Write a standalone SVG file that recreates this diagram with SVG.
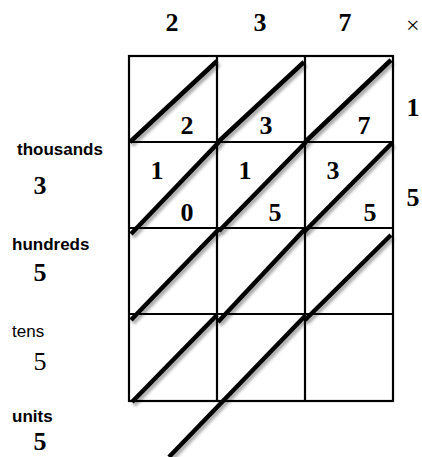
<svg xmlns="http://www.w3.org/2000/svg" width="422" height="457" viewBox="0 0 422 457">
<defs>
<filter id="sh" x="-20%" y="-20%" width="140%" height="140%">
<feDropShadow dx="2" dy="3" stdDeviation="1.8" flood-color="#000" flood-opacity="0.35"/>
</filter>
<style>
.grid{fill:none;stroke:#000;stroke-width:2.2}
.diag{stroke:#000;stroke-width:4.5;fill:none;filter:url(#sh)}
.num{font-family:"Liberation Serif","Times New Roman",serif;font-weight:bold;font-size:26px;fill:#000;text-anchor:middle}
.numr{font-family:"Liberation Serif","Times New Roman",serif;font-size:26px;fill:#000;text-anchor:middle}
.lab{font-family:"Liberation Sans",Arial,sans-serif;font-weight:bold;font-size:17px;fill:#000}
.labr{font-family:"Liberation Sans",Arial,sans-serif;font-size:17px;fill:#000}
</style>
</defs>
<rect width="422" height="457" fill="#fff"/>
<g id="grid">
<rect class="grid" x="129" y="56" width="264" height="345"/>
<line class="grid" x1="217" y1="56" x2="217" y2="401"/>
<line class="grid" x1="305" y1="56" x2="305" y2="401"/>
<line class="grid" x1="129" y1="142" x2="393" y2="142"/>
<line class="grid" x1="129" y1="228" x2="393" y2="228"/>
<line class="grid" x1="129" y1="314" x2="393" y2="314"/>
</g>
<g id="connectors">
<line class="diag" x1="130" y1="142" x2="217" y2="61"/>
<line class="diag" x1="218" y1="142" x2="304" y2="62"/>
<line class="diag" x1="305" y1="142" x2="391" y2="60"/>
<line class="diag" x1="131" y1="234" x2="219" y2="142"/>
<line class="diag" x1="219" y1="231" x2="306" y2="142"/>
<line class="diag" x1="304" y1="232" x2="392" y2="143"/>
<line class="diag" x1="131" y1="320" x2="219" y2="229"/>
<line class="diag" x1="218" y1="322" x2="305" y2="229"/>
<line class="diag" x1="305" y1="320" x2="391" y2="235"/>
<line class="diag" x1="132" y1="402" x2="217" y2="315"/>
<line class="diag" x1="169" y1="457" x2="305" y2="316"/>
</g>
<g id="top-factors">
<text class="num" x="172" y="31">2</text>
<text class="num" x="260" y="31">3</text>
<text class="num" x="345" y="31">7</text>
<text class="numr" x="406" y="33" style="text-anchor:start;font-size:24px">×</text>
</g>
<g id="right-factors">
<text class="num" x="413" y="116">1</text>
<text class="num" x="413" y="206">5</text>
</g>
<g id="cell-r1c1"><text class="num" x="187" y="134">2</text></g>
<g id="cell-r1c2"><text class="num" x="266" y="134">3</text></g>
<g id="cell-r1c3"><text class="num" x="364" y="134">7</text></g>
<g id="cell-r2c1"><text class="num" x="157" y="179">1</text><text class="num" x="187" y="221">0</text></g>
<g id="cell-r2c2"><text class="num" x="245" y="179">1</text><text class="num" x="275" y="221">5</text></g>
<g id="cell-r2c3"><text class="num" x="333" y="179">3</text><text class="num" x="370" y="221">5</text></g>
<g id="label-thousands"><text class="lab" x="17" y="155">thousands</text><text class="num" x="40" y="194">3</text></g>
<g id="label-hundreds"><text class="lab" x="12" y="250">hundreds</text><text class="num" x="40" y="281">5</text></g>
<g id="label-tens"><text class="labr" x="12" y="337">tens</text><text class="numr" x="40" y="370">5</text></g>
<g id="label-units"><text class="lab" x="12" y="422">units</text><text class="num" x="40" y="450">5</text></g>
</svg>
